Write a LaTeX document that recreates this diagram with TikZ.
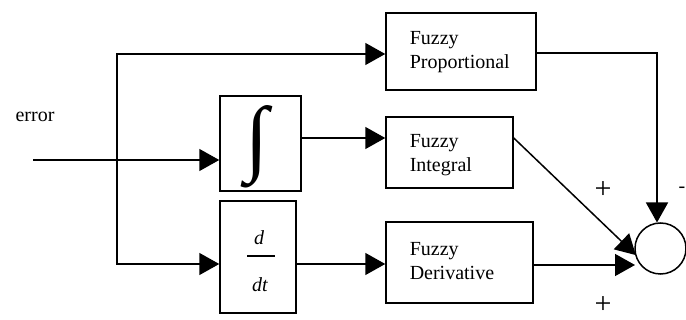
\documentclass[tikz,border=0pt]{standalone}
\usepackage{fontspec}
\setmainfont{Liberation Serif}
\usepackage{graphicx}
\usetikzlibrary{arrows.meta,calc}
\begin{document}
\begin{tikzpicture}[x=1pt,y=-1pt,
  line width=1.5pt,
  blk/.style={draw,rectangle,inner sep=0pt,line width=1.5pt},
  lbl/.style={font=\fontsize{20}{24}\selectfont,inner sep=0pt},
  sgn/.style={font=\fontsize{30}{30}\selectfont,inner sep=0pt},
  fz/.style={lbl,anchor=west,align=left},
  arr/.style={line width=1.5pt,-{Triangle[length=20pt,width=22pt]}}]
\useasboundingbox (0,0) rectangle (686,320);
% blocks
\node[blk,minimum width=81pt,minimum height=95pt] (ib) at (260.5,143.5) {};
\node[blk,minimum width=76pt,minimum height=112pt] (db) at (258,257) {};
\node[blk,minimum width=150pt,minimum height=77pt] (fp) at (461,51.5) {};
\node[blk,minimum width=127pt,minimum height=71pt] (fi) at (449.5,152.5) {};
\node[blk,minimum width=147pt,minimum height=81pt] (fd) at (459.5,262.5) {};
\node[draw,circle,minimum size=51pt,inner sep=0pt,line width=1.5pt] (sum) at (660.5,248.5) {};
% block contents
\node[inner sep=0pt] (intsym) at (257.5,147) {\resizebox{!}{60pt}{∫}};
\node[lbl] (dnum) at (259,238) {\itshape d};
\node[lbl] (dden) at (260,285) {\itshape dt};
\coordinate (barl) at (247,256);
\coordinate (barr) at (275,256);
\draw[line width=1.2pt] (barl) -- (barr);
\node[fz] (tp) at (409,52) {Fuzzy\\Proportional};
\node[fz] (ti) at (409,155) {Fuzzy\\Integral};
\node[fz] (td) at (409,261) {Fuzzy\\Derivative};
% texts
\node[lbl] (err) at (35,117) {error};
\node[sgn] (p1) at (603,190) {+};
\node[lbl] (m1) at (682,190) {-};
\node[sgn] (p2) at (603,305) {+};
% connectors
\coordinate (inp) at (33,160);
\coordinate (br) at (117,160);
\coordinate (brt) at (117,54);
\coordinate (brb) at (117,264);
\coordinate (pcorner) at (657,53);
\coordinate (sumtop) at (657,222.5);
\coordinate (sumdi) at ($(sum.center)+(165:25.5)$);
\coordinate (sumle) at (635,265);
\draw[arr] (inp) -- (ib.west |- inp);
\draw[arr] (br) -- (brt) -- (fp.west |- brt);
\draw[arr] (br) -- (brb) -- (db.west |- brb);
\draw[arr] (ib.east |- 0,138) -- (fi.west |- 0,138);
\draw[arr] (db.east |- brb) -- (fd.west |- brb);
\draw[arr] (fp.east |- pcorner) -- (pcorner) -- (sumtop);
\draw[arr] (fi.east |- 0,138) -- (sumdi);
\draw[arr] (fd.east |- sumle) -- (sumle);
\end{tikzpicture}
\end{document}
